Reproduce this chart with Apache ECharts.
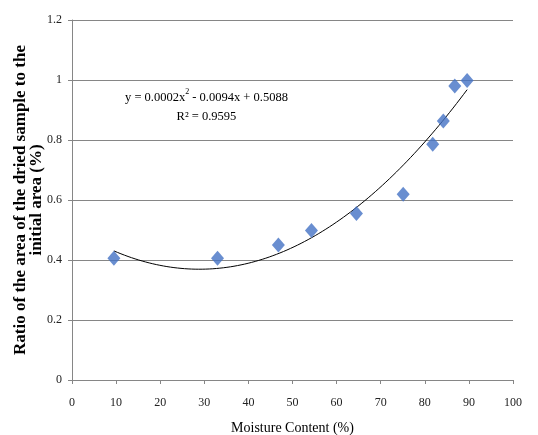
<!DOCTYPE html>
<html>
<head>
<meta charset="utf-8">
<script src="https://cdn.jsdelivr.net/npm/echarts@6/dist/echarts.min.js"></script>
<style>html,body{margin:0;padding:0;background:#fff}#c{width:538px;height:435px}</style>
</head>
<body>
<div id="c"></div>
<script>
const moisture = [9.5, 33.0, 46.8, 54.3, 64.5, 75.1, 81.8, 84.2, 86.8, 89.6];
const ratio = [0.406, 0.406, 0.45, 0.498, 0.555, 0.619, 0.786, 0.863, 0.98, 0.998];
const xTicks = [0, 10, 20, 30, 40, 50, 60, 70, 80, 90, 100];
const yTicks = [0, 0.2, 0.4, 0.6, 0.8, 1, 1.2];
const equationLines = ['y = 0.0002x', ' - 0.0094x + 0.5088', 'R² = 0.9595'];

// least-squares quadratic fit of the data (trendline)
function quadFit(xs, ys) {
  let n = xs.length, s = [0,0,0,0,0], t = [0,0,0];
  for (let i = 0; i < n; i++) {
    let x = xs[i], y = ys[i];
    for (let k = 0; k < 5; k++) s[k] += Math.pow(x, k);
    for (let k = 0; k < 3; k++) t[k] += y * Math.pow(x, k);
  }
  const A = [[s[0], s[1], s[2], t[0]], [s[1], s[2], s[3], t[1]], [s[2], s[3], s[4], t[2]]];
  for (let i = 0; i < 3; i++) {
    for (let j = i + 1; j < 3; j++) {
      const f = A[j][i] / A[i][i];
      for (let k = i; k < 4; k++) A[j][k] -= f * A[i][k];
    }
  }
  const c = [0, 0, 0];
  for (let i = 2; i >= 0; i--) {
    let v = A[i][3];
    for (let k = i + 1; k < 3; k++) v -= A[i][k] * c[k];
    c[i] = v / A[i][i];
  }
  return c;
}
const coef = quadFit(moisture, ratio);
const trend = [];
const x0 = moisture[0], x1 = moisture[moisture.length - 1];
for (let i = 0; i <= 100; i++) {
  const x = x0 + (x1 - x0) * i / 100;
  trend.push([x, coef[0] + coef[1] * x + coef[2] * x * x]);
}

const chart = echarts.init(document.getElementById('c'));
const serif = '"Liberation Serif", "Times New Roman", serif';
chart.setOption({
  animation: false,
  grid: { left: 72, right: 25, top: 20, bottom: 55, outerBoundsMode: 'none', containLabel: false },
  xAxis: {
    type: 'value', min: 0, max: 100, interval: 10,
    name: 'Moisture Content (%)', nameLocation: 'middle', nameGap: 41, nameMoveOverlap: false,
    nameTextStyle: { fontFamily: serif, fontSize: 14, color: '#000' },
    axisLine: { show: true, lineStyle: { color: '#868686' } },
    axisTick: { show: true, length: 4, lineStyle: { color: '#868686' } },
    axisLabel: { fontFamily: serif, fontSize: 12, color: '#222', margin: 17 },
    splitLine: { show: false }
  },
  yAxis: {
    type: 'value', min: 0, max: 1.2, interval: 0.2,
    name: 'Ratio of the area of the dried sample to the\ninitial area (%)',
    nameLocation: 'middle', nameGap: 27, nameRotate: 90, nameMoveOverlap: false,
    nameTextStyle: { fontFamily: serif, fontSize: 17, fontWeight: 'bold', color: '#000', lineHeight: 16, align: 'center' },
    axisLine: { show: true, lineStyle: { color: '#868686' } },
    axisTick: { show: true, length: 4, lineStyle: { color: '#868686' } },
    axisLabel: { fontFamily: serif, fontSize: 12, color: '#222', margin: 10, formatter: v => String(+v.toFixed(1)) },
    splitLine: { show: true, lineStyle: { color: '#868686', width: 1 } }
  },
  graphic: [{
    type: 'text', left: 125, top: 88,
    style: {
      text: '{a|' + equationLines[0] + '}{s|2}{a|' + equationLines[1] + '}\n{b|' + equationLines[2] + '}',
      align: 'center',
      rich: {
        a: { fontFamily: serif, fontSize: 12.5, color: '#000', lineHeight: 19 },
        b: { fontFamily: serif, fontSize: 12.5, color: '#000', lineHeight: 19, align: 'center' },
        s: { fontFamily: serif, fontSize: 8, color: '#000', verticalAlign: 'top', lineHeight: 19, padding: [0, 0, 6, 0] }
      }
    }
  }],
  series: [{
    type: 'line', data: trend, showSymbol: false, smooth: false,
    lineStyle: { color: '#000', width: 1 }, z: 3
  }, {
    type: 'scatter', data: moisture.map((x, i) => [x, ratio[i]]),
    symbol: 'diamond', symbolSize: [13, 15],
    itemStyle: { color: '#4472C4' }, z: 4
  }]
});
</script>
</body>
</html>
